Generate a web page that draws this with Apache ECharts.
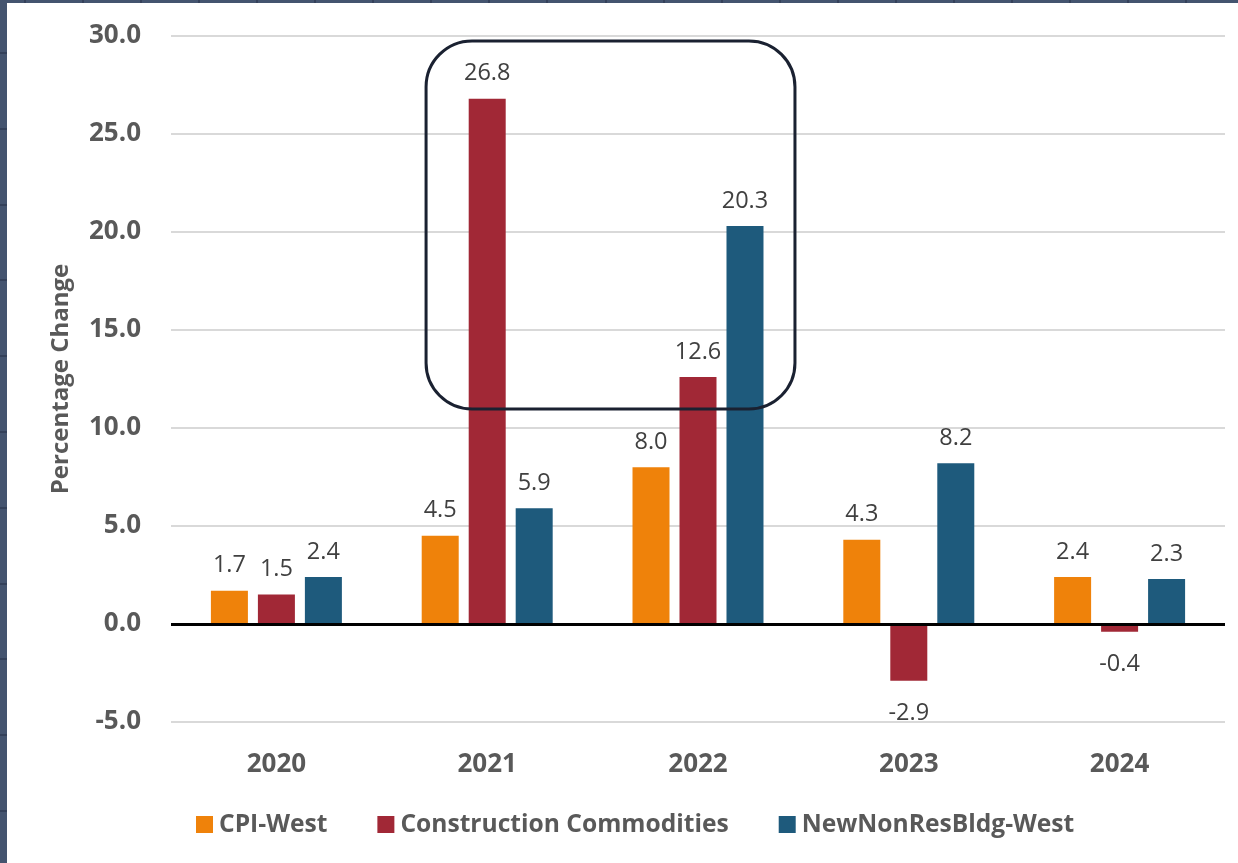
<!DOCTYPE html>
<html>
<head>
<meta charset="utf-8">
<script src="https://cdn.jsdelivr.net/npm/echarts@6/dist/echarts.min.js"></script>
<style>
  html, body { margin: 0; padding: 0; background: #ffffff; }
  #chart { width: 1238px; height: 863px; }
</style>
</head>
<body>
<div id="chart"></div>
<script>
// Annual percentage change, western region
const years = ['2020', '2021', '2022', '2023', '2024'];
const cpiWest = [1.7, 4.5, 8.0, 4.3, 2.4];
const constructionCommodities = [1.5, 26.8, 12.6, -2.9, -0.4];
const newNonResBldgWest = [2.4, 5.9, 20.3, 8.2, 2.3];
const seriesNames = ['CPI-West', 'Construction Commodities', 'NewNonResBldg-West'];
const seriesColors = ['#EF820A', '#A12836', '#1E5A7C'];
const yTicks = { min: -5, max: 30, interval: 5 };

const FONT = '"Open Sans", "Liberation Sans", sans-serif';

function barData(values) {
  return values.map(v => ({
    value: v,
    label: v < 0 ? { position: 'bottom', distance: 20 } : { position: 'top' }
  }));
}

function makeSeries(name, values, color) {
  return {
    name: name,
    type: 'bar',
    data: barData(values),
    barWidth: 37,
    barGap: '27%',
    itemStyle: { color: color },
    label: {
      show: true,
      distance: 13,
      color: '#404040',
      fontFamily: FONT,
      fontSize: 23.5,
      formatter: p => p.value.toFixed(1)
    }
  };
}

const chart = echarts.init(document.getElementById('chart'), null, { renderer: 'canvas' });

const option = {
  backgroundColor: '#ffffff',
  animation: false,
  grid: { left: 171, right: 13, top: 36, bottom: 141 },
  legend: {
    bottom: 21,
    left: 191,
    itemWidth: 17,
    itemHeight: 17,
    itemGap: 50,
    icon: 'rect',
    textStyle: { fontFamily: FONT, fontWeight: 'bold', fontSize: 24.6, color: '#595959', padding: [0, 0, 0, 1] },
    data: seriesNames
  },
  xAxis: {
    type: 'category',
    data: years,
    axisLine: { show: false },
    axisTick: { show: false },
    axisLabel: {
      color: '#595959',
      fontFamily: FONT,
      fontWeight: 'bold',
      fontSize: 26,
      margin: 30
    }
  },
  yAxis: {
    type: 'value',
    min: yTicks.min,
    max: yTicks.max,
    interval: yTicks.interval,
    name: 'Percentage Change',
    nameLocation: 'middle',
    nameRotate: 90,
    nameGap: 98,
    nameTextStyle: { color: '#595959', fontFamily: FONT, fontWeight: 'bold', fontSize: 24 },
    axisLine: { show: false },
    axisTick: { show: false },
    axisLabel: {
      color: '#595959',
      fontFamily: FONT,
      fontWeight: 'bold',
      fontSize: 26,
      margin: 30,
      formatter: v => v.toFixed(1)
    },
    splitLine: { lineStyle: { color: '#D9D9D9', width: 2 } }
  },
  series: [
    makeSeries(seriesNames[0], cpiWest, seriesColors[0]),
    makeSeries(seriesNames[1], constructionCommodities, seriesColors[1]),
    makeSeries(seriesNames[2], newNonResBldgWest, seriesColors[2]),
    {
      // zero baseline drawn over the bars
      type: 'line',
      silent: true,
      data: [],
      markLine: {
        silent: true,
        symbol: 'none',
        label: { show: false },
        lineStyle: { color: '#000000', width: 3, type: 'solid' },
        data: [{ yAxis: 0 }]
      }
    }
  ]
};

chart.setOption(option);

// Highlight box around the 2021–2022 spike, plus the dark frame strips on the page edge
function addDecorations() {
  const gridW = 1238 - 171 - 13;
  const catW = gridW / years.length;
  const tl = chart.convertToPixel({ gridIndex: 0 }, ['2021', 29.75]);
  const br = chart.convertToPixel({ gridIndex: 0 }, ['2022', 10.97]);
  const x0 = tl[0] - 0.29 * catW;
  const x1 = br[0] + 0.46 * catW;

  const elements = [
    {
      type: 'rect',
      z: 100,
      shape: { x: x0, y: tl[1], width: x1 - x0, height: br[1] - tl[1], r: 46 },
      style: { fill: 'none', stroke: '#1A2131', lineWidth: 3 }
    },
    { type: 'rect', z: 110, shape: { x: 0, y: 0, width: 7, height: 863 }, style: { fill: '#44546F' } },
    { type: 'rect', z: 110, shape: { x: 0, y: 0, width: 1238, height: 3 }, style: { fill: '#44546F' } }
  ];
  for (let y = 53; y < 863; y += 75.8) {
    elements.push({ type: 'rect', z: 111, shape: { x: 0, y: Math.round(y) - 1, width: 7, height: 2 }, style: { fill: '#34415A' } });
  }
  for (let x = 25; x < 1238; x += 58.05) {
    elements.push({ type: 'rect', z: 111, shape: { x: Math.round(x) - 1, y: 0, width: 2, height: 3 }, style: { fill: '#34415A' } });
  }
  chart.setOption({ graphic: { elements: elements } });
}
addDecorations();
</script>
</body>
</html>
